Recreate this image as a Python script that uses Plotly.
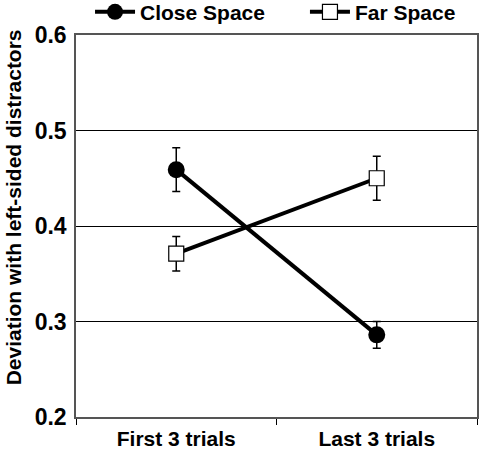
import plotly.graph_objects as go

categories = ["First 3 trials", "Last 3 trials"]
close_vals = [0.459, 0.286]
close_err = [0.023, 0.014]
far_vals = [0.371, 0.450]
far_err = [0.018, 0.023]
y_ticks = [0.2, 0.3, 0.4, 0.5, 0.6]

fig = go.Figure()
fig.add_trace(go.Scatter(
    x=categories, y=close_vals, name="<b>Close Space</b>" + "&nbsp;" * 6, mode="lines+markers",
    line=dict(color="black", width=4),
    marker=dict(symbol="circle", size=17, color="black"),
    error_y=dict(type="data", array=close_err, color="black", thickness=1.5, width=4),
))
fig.add_trace(go.Scatter(
    x=categories, y=far_vals, name="<b>Far Space</b>", mode="lines+markers",
    line=dict(color="black", width=4),
    marker=dict(symbol="square", size=15, color="white", line=dict(color="black", width=1.2)),
    error_y=dict(type="data", array=far_err, color="black", thickness=1.5, width=4),
))

fig.update_layout(
    width=488, height=450,
    margin=dict(l=76, r=11, t=35, b=33, autoexpand=False),
    plot_bgcolor="white", paper_bgcolor="white",
    font=dict(family="Liberation Sans, Arial", color="black"),
    showlegend=True,
    legend=dict(orientation="h", x=0.035, xanchor="left", y=0.973, yref="container", yanchor="middle",
                font=dict(size=21, family="Liberation Sans, Arial"),
                itemwidth=40, tracegroupgap=0, bgcolor="rgba(0,0,0,0)"),
    annotations=[dict(
        text="<b>Deviation with left-sided distractors</b>", textangle=-90,
        xref="paper", yref="paper", x=-0.156, y=0.55, xanchor="center", yanchor="middle",
        showarrow=False, font=dict(size=21),
    )],
)
fig.update_xaxes(
    type="category", range=[-0.5, 1.5],
    tickfont=dict(size=21), ticks="outside", tickson="boundaries", ticklen=6,
    tickcolor="black", showline=True, linecolor="#555", linewidth=1.5, mirror=True,
    showgrid=False, ticklabelstandoff=2,
    tickprefix="<b>", ticksuffix="</b>",
)
fig.update_yaxes(
    range=[0.2, 0.6], tickvals=y_ticks, ticktext=[f"<b>{v:.1f}</b>" for v in y_ticks],
    tickfont=dict(size=23), ticks="", showgrid=True, gridcolor="black", gridwidth=1.2,
    showline=True, linecolor="#555", linewidth=1.5, mirror=True, zeroline=False,
    ticklabelstandoff=3,
)

fig.write_html("out.html", config={"displayModeBar": False},
               post_script="document.body.style.margin='0';")
